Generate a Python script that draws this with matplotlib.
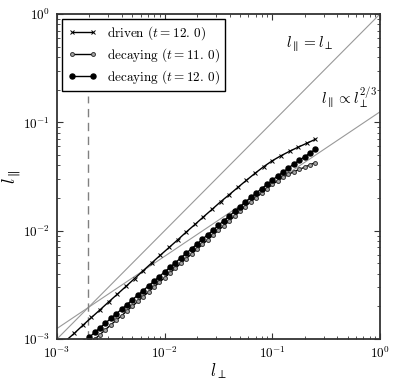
import matplotlib
matplotlib.use("Agg")
import matplotlib.pyplot as plt

plt.rcParams["mathtext.fontset"] = "cm"
plt.rcParams["font.family"] = "serif"
plt.rcParams["font.serif"] = ["cmr10", "DejaVu Serif"]
plt.rcParams["axes.formatter.use_mathtext"] = True

# driven run (t = 12.0)
driven_x = [1.00e-3, 1.20e-3, 1.45e-3, 1.74e-3, 2.09e-3, 2.51e-3, 3.02e-3,
            3.63e-3, 4.37e-3, 5.25e-3, 6.31e-3, 7.59e-3, 9.12e-3, 1.10e-2,
            1.32e-2, 1.58e-2, 1.91e-2, 2.29e-2, 2.75e-2, 3.31e-2, 3.98e-2,
            4.79e-2, 5.75e-2, 6.92e-2, 8.32e-2, 1.00e-1, 1.20e-1, 1.45e-1,
            1.74e-1, 2.09e-1, 2.51e-1]
driven_y = [8.13e-4, 9.59e-4, 1.13e-3, 1.34e-3, 1.58e-3, 1.86e-3, 2.20e-3,
            2.59e-3, 3.06e-3, 3.61e-3, 4.27e-3, 5.04e-3, 5.94e-3, 7.00e-3,
            8.22e-3, 9.68e-3, 1.14e-2, 1.34e-2, 1.57e-2, 1.85e-2, 2.15e-2,
            2.51e-2, 2.92e-2, 3.39e-2, 3.90e-2, 4.42e-2, 4.91e-2, 5.41e-2,
            5.90e-2, 6.41e-2, 6.97e-2]

# decaying runs share the same l_perp bins
decay_x = [1.58e-3, 1.78e-3, 2.00e-3, 2.24e-3, 2.51e-3, 2.82e-3, 3.16e-3,
           3.55e-3, 3.98e-3, 4.47e-3, 5.01e-3, 5.62e-3, 6.31e-3, 7.08e-3,
           7.94e-3, 8.91e-3, 1.00e-2, 1.12e-2, 1.26e-2, 1.41e-2, 1.58e-2,
           1.78e-2, 2.00e-2, 2.24e-2, 2.51e-2, 2.82e-2, 3.16e-2, 3.55e-2,
           3.98e-2, 4.47e-2, 5.01e-2, 5.62e-2, 6.31e-2, 7.08e-2, 7.94e-2,
           8.91e-2, 1.00e-1, 1.12e-1, 1.26e-1, 1.41e-1, 1.58e-1, 1.78e-1,
           2.00e-1, 2.24e-1, 2.51e-1]
decay11_y = [7.35e-4, 8.13e-4, 8.99e-4, 9.93e-4, 1.10e-3, 1.22e-3, 1.35e-3,
             1.49e-3, 1.64e-3, 1.82e-3, 2.01e-3, 2.22e-3, 2.46e-3, 2.72e-3,
             3.01e-3, 3.33e-3, 3.68e-3, 4.07e-3, 4.51e-3, 4.98e-3, 5.51e-3,
             6.10e-3, 6.75e-3, 7.45e-3, 8.24e-3, 9.12e-3, 1.01e-2, 1.11e-2,
             1.23e-2, 1.36e-2, 1.51e-2, 1.67e-2, 1.85e-2, 2.02e-2, 2.22e-2,
             2.43e-2, 2.67e-2, 2.88e-2, 3.10e-2, 3.30e-2, 3.50e-2, 3.67e-2,
             3.86e-2, 4.05e-2, 4.25e-2]
decay12_y = [8.53e-4, 9.42e-4, 1.04e-3, 1.15e-3, 1.27e-3, 1.40e-3, 1.55e-3,
             1.71e-3, 1.88e-3, 2.08e-3, 2.30e-3, 2.54e-3, 2.80e-3, 3.09e-3,
             3.41e-3, 3.77e-3, 4.16e-3, 4.59e-3, 5.07e-3, 5.60e-3, 6.18e-3,
             6.82e-3, 7.53e-3, 8.32e-3, 9.18e-3, 1.01e-2, 1.12e-2, 1.24e-2,
             1.36e-2, 1.51e-2, 1.66e-2, 1.84e-2, 2.03e-2, 2.22e-2, 2.44e-2,
             2.67e-2, 2.93e-2, 3.19e-2, 3.48e-2, 3.78e-2, 4.12e-2, 4.46e-2,
             4.82e-2, 5.21e-2, 5.64e-2]

# reference scalings
ref_x = [1e-3, 1.0]
iso_y = [1e-3, 1.0]
gs_y = [1.25e-3, 0.125]
dash_x = [1.95e-3, 1.95e-3]
dash_y = [1e-3, 0.175]

fig = plt.figure(figsize=(3.99, 3.86), dpi=100)
ax = fig.add_axes([0.1429, 0.1218, 0.8095, 0.8420])

ax.plot(ref_x, iso_y, color="0.6", lw=0.8)
ax.plot(ref_x, gs_y, color="0.6", lw=0.8)
ax.plot(dash_x, dash_y, color="0.5", lw=1.0, ls=(0, (6, 4)))

ax.plot(driven_x, driven_y, color="k", lw=1.0, marker="x", ms=3.0, mew=0.7,
        label=r"driven $(t=12.\,0)$")
ax.plot(decay_x, decay11_y, color="k", lw=1.0, marker="o", ms=2.8, mew=0.7,
        mfc="0.65", mec="0.2", label=r"decaying $(t=11.\,0)$")
ax.plot(decay_x, decay12_y, color="k", lw=1.0, marker="o", ms=3.6,
        mfc="k", mec="k", label=r"decaying $(t=12.\,0)$")

ax.set_xscale("log")
ax.set_yscale("log")
ax.set_xlim(1e-3, 1)
ax.set_ylim(1e-3, 1)

ax.text(0.223, 0.53, r"$l_\parallel = l_\perp$", fontsize=11, ha="center",
        va="center")
ax.text(0.52, 0.171, r"$l_\parallel \propto l_\perp^{2/3}$", fontsize=11,
        ha="center", va="center")

ax.set_xlabel(r"$l_\perp$", fontsize=12, labelpad=0)
ax.set_ylabel(r"$l_\parallel$", fontsize=13)
ax.yaxis.set_label_coords(-0.105, 0.5)

for side in ax.spines.values():
    side.set_linewidth(1.3)
    side.set_color("0.2")
ax.tick_params(which="both", direction="in", top=True, right=True,
               labelsize=9.5, color="0.2")
ax.tick_params(which="major", length=4, width=0.8, pad=5)
ax.tick_params(which="minor", length=2, width=0.6)

leg = ax.legend(loc="upper left", fontsize=9.5, fancybox=False,
                edgecolor="k", framealpha=1, numpoints=2, handlelength=2.2,
                labelspacing=0.3, borderaxespad=0.4)
leg.get_frame().set_linewidth(1.0)

fig.savefig("out.png", dpi=100)
